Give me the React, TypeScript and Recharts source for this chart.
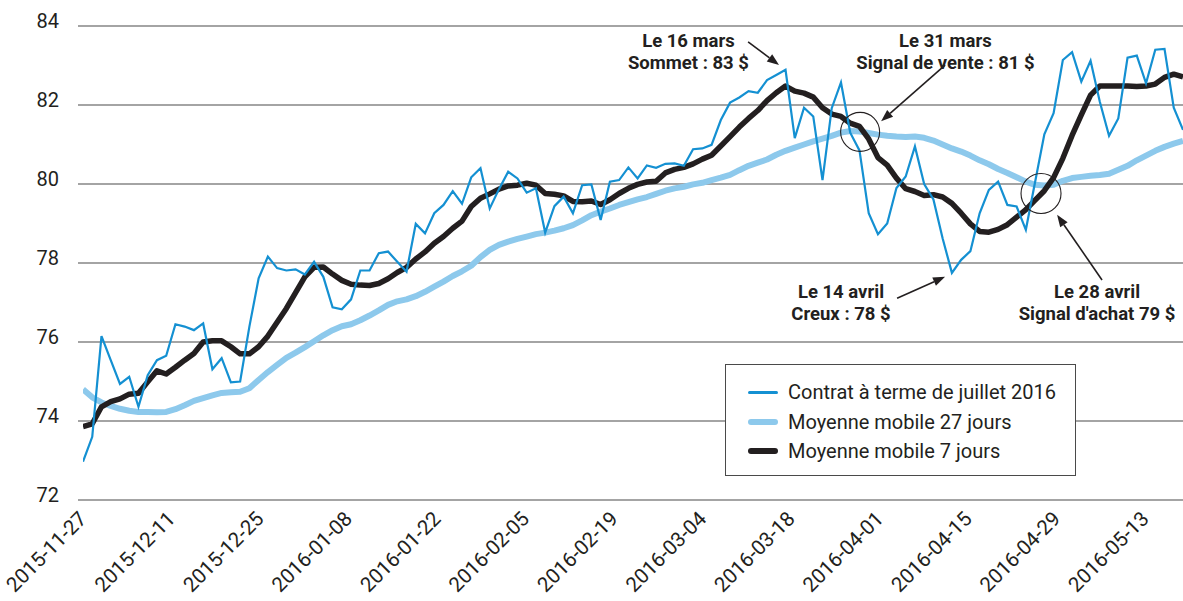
import {
  CartesianGrid,
  Line,
  LineChart,
  ReferenceDot,
  ReferenceLine,
  XAxis,
  YAxis,
} from "recharts";

// Trading days shown (weekdays, exchange holidays removed).
const FIRST_DAY = "2015-11-27";
const LAST_DAY = "2016-05-19";
const HOLIDAYS = ["2015-12-25", "2016-01-01", "2016-01-18", "2016-02-15", "2016-03-25"];

// Contrat à terme de juillet 2016 (closing price, $)
const PRICE = [
  72.97, 73.6, 76.15, 75.54, 74.94, 75.12, 74.36, 75.16, 75.54, 75.65,
  76.45, 76.39, 76.3, 76.47, 75.31, 75.59, 74.98, 75.0, 76.39, 77.61,
  78.16, 77.87, 77.81, 77.84, 77.71, 78.03, 77.65, 76.88, 76.83, 77.08,
  77.81, 77.81, 78.25, 78.29, 78.03, 77.78, 78.99, 78.75, 79.26, 79.47,
  79.82, 79.5, 80.17, 80.4, 79.38, 79.87, 80.31, 80.14, 79.78, 79.89,
  78.77, 79.44, 79.68, 79.26, 79.97, 79.99, 79.09, 80.06, 80.1, 80.42,
  80.14, 80.47, 80.41, 80.51, 80.52, 80.46, 80.88, 80.9, 80.99, 81.62,
  82.06, 82.19, 82.35, 82.31, 82.63, 82.76, 82.89, 81.16, 81.93, 81.71,
  80.1, 81.92, 82.57, 81.3, 80.85, 79.26, 78.73, 79.0, 79.9, 80.19,
  80.95, 80.0, 79.61, 78.62, 77.75, 78.08, 78.3, 79.26, 79.85, 80.06,
  79.47, 79.43, 78.84, 80.05, 81.26, 81.79, 83.14, 83.34, 82.59, 83.12,
  82.08, 81.22, 81.66, 83.2, 83.25, 82.55, 83.4, 83.42, 81.93, 81.37,
];

// Moyenne mobile 27 jours
const MA27 = [
  74.8, 74.6, 74.47, 74.38, 74.31, 74.26, 74.23, 74.23, 74.22, 74.23,
  74.3, 74.4, 74.51, 74.58, 74.65, 74.71, 74.73, 74.74, 74.83, 75.04,
  75.24, 75.42, 75.6, 75.73, 75.87, 76.02, 76.17, 76.3, 76.4, 76.45,
  76.55, 76.67, 76.8, 76.94, 77.03, 77.08, 77.16, 77.27, 77.4, 77.53,
  77.67, 77.79, 77.93, 78.15, 78.33, 78.46, 78.54, 78.61, 78.67, 78.73,
  78.77, 78.82, 78.88, 78.96, 79.08, 79.21, 79.3, 79.38, 79.47, 79.54,
  79.61, 79.67, 79.75, 79.83, 79.89, 79.93, 79.99, 80.03, 80.1, 80.16,
  80.23, 80.35, 80.46, 80.54, 80.62, 80.74, 80.84, 80.92, 81.0, 81.08,
  81.15, 81.22, 81.3, 81.34, 81.33, 81.29, 81.25, 81.22, 81.2, 81.19,
  81.2, 81.17, 81.1, 81.0, 80.9, 80.82, 80.72, 80.6, 80.5, 80.38,
  80.28, 80.17, 80.06, 79.98, 79.96, 79.98, 80.08, 80.15, 80.18, 80.21,
  80.23, 80.26, 80.36, 80.46, 80.6, 80.72, 80.84, 80.94, 81.02, 81.09,
];

// Moyenne mobile 7 jours
const MA7 = [
  73.86, 73.93, 74.36, 74.49, 74.56, 74.68, 74.7, 74.99, 75.27, 75.19,
  75.36, 75.54, 75.71, 76.0, 76.03, 76.03, 75.88, 75.7, 75.7, 75.88,
  76.15, 76.5, 76.85, 77.25, 77.65, 77.89, 77.9, 77.72, 77.56, 77.46,
  77.44, 77.43, 77.48, 77.6, 77.76, 77.89, 78.1, 78.28, 78.5, 78.67,
  78.88, 79.06, 79.43, 79.64, 79.75, 79.87, 79.95, 79.97, 80.02, 79.97,
  79.76, 79.74, 79.7, 79.56, 79.55, 79.57, 79.48, 79.6, 79.76, 79.89,
  79.99, 80.05, 80.07, 80.28, 80.37, 80.42, 80.51, 80.63, 80.73, 80.96,
  81.2, 81.44, 81.66, 81.86, 82.11, 82.31, 82.48, 82.35, 82.3, 82.2,
  81.93, 81.77, 81.71, 81.54, 81.46, 81.14, 80.67, 80.48, 80.15, 79.88,
  79.81, 79.71, 79.73, 79.67, 79.51, 79.26, 78.99, 78.8, 78.78, 78.85,
  78.97, 79.16, 79.35, 79.59, 79.83, 80.16, 80.65, 81.23, 81.75, 82.25,
  82.48, 82.48, 82.48, 82.48, 82.47, 82.48, 82.53, 82.7, 82.78, 82.71,
];

const TICK_LABELS = [
  "2015-11-27", "2015-12-11", "2015-12-25", "2016-01-08", "2016-01-22",
  "2016-02-05", "2016-02-19", "2016-03-04", "2016-03-18", "2016-04-01",
  "2016-04-15", "2016-04-29", "2016-05-13",
];
const Y_TICKS = [72, 74, 76, 78, 80, 82, 84];

// Annotations, in data units (x = trading-day index, y = $)
const NOTES = [
  { x: 65.5, y: 83.48, lines: ["Le 16 mars", "Sommet : 83 $"] },
  { x: 93.3, y: 83.48, lines: ["Le 31 mars", "Signal de vente : 81 $"] },
  { x: 82.0, y: 77.11, lines: ["Le 14 avril", "Creux : 78 $"] },
  { x: 109.7, y: 77.11, lines: ["Le 28 avril", "Signal d'achat 79 $"] },
];
const ARROWS = [
  { x1: 71.95, y1: 83.6, x2: 75.3, y2: 83.01 },
  { x1: 93.26, y1: 83.01, x2: 86.34, y2: 81.59 },
  { x1: 88.07, y1: 77.11, x2: 93.26, y2: 77.65 },
  { x1: 110.24, y1: 77.57, x2: 105.38, y2: 79.22 },
];
const CIRCLES = [
  { x: 84.07, y: 81.32, r: 19.5 },
  { x: 103.64, y: 79.76, r: 20 },
];

const BLUE = "#1490d2";
const LIGHT = "#8dc9ec";
const DARK = "#231f20";
const FONT = "Roboto, 'Noto Sans', sans-serif";

const DAY_MS = 86400000;
const toUtc = (s: string) => Date.parse(s + "T00:00:00Z");
const dayOffset = (s: string) => Math.round((toUtc(s) - toUtc(FIRST_DAY)) / DAY_MS);

function tradingDays(first: string, last: string, holidays: string[]): string[] {
  const out: string[] = [];
  for (let t = toUtc(first); t <= toUtc(last); t += DAY_MS) {
    const d = new Date(t);
    const wd = d.getUTCDay();
    const iso = d.toISOString().slice(0, 10);
    if (wd !== 0 && wd !== 6 && !holidays.includes(iso)) out.push(iso);
  }
  return out;
}

const DATES = tradingDays(FIRST_DAY, LAST_DAY, HOLIDAYS);

const data = PRICE.map((p, i) => ({
  i,
  date: DATES[i],
  day: dayOffset(DATES[i] ?? LAST_DAY),
  price: p,
  ma27: MA27[i],
  ma7: MA7[i],
}));

const LEGEND = [
  { label: "Contrat à terme de juillet 2016", color: BLUE, h: 3 },
  { label: "Moyenne mobile 27 jours", color: LIGHT, h: 6 },
  { label: "Moyenne mobile 7 jours", color: DARK, h: 6 },
];

function DateTick(props: any) {
  const { x, y, payload } = props;
  const label = new Date(toUtc(FIRST_DAY) + payload.value * DAY_MS)
    .toISOString()
    .slice(0, 10);
  const ax = x + 5;
  const ay = y + 20;
  return (
    <text
      x={ax}
      y={ay}
      transform={`rotate(-45 ${ax} ${ay})`}
      textAnchor="end"
      fontSize={20.5}
      fontFamily={FONT}
      fill={DARK}
    >
      {label}
    </text>
  );
}

function ValueTick(props: any) {
  const { x, y, payload } = props;
  return (
    <text x={x - 19} y={y + 1.5} textAnchor="end" fontSize={20} fontFamily={FONT} fill={DARK}>
      {payload.value}
    </text>
  );
}

function Arrow(props: any) {
  const { x1, y1, x2, y2 } = props;
  const a = Math.atan2(y2 - y1, x2 - x1);
  const len = 12;
  const half = 4.5;
  const bx = x2 - len * Math.cos(a);
  const by = y2 - len * Math.sin(a);
  const p1 = `${bx + half * Math.sin(a)},${by - half * Math.cos(a)}`;
  const p2 = `${bx - half * Math.sin(a)},${by + half * Math.cos(a)}`;
  return (
    <g>
      <line x1={x1} y1={y1} x2={bx} y2={by} stroke={DARK} strokeWidth={1.6} />
      <polygon points={`${x2},${y2} ${p1} ${p2}`} fill={DARK} />
    </g>
  );
}

function noteShape(lines: string[]) {
  return (props: any) => (
    <text
      x={props.cx}
      y={props.cy}
      textAnchor="middle"
      fontSize={18.5}
      fontWeight={700}
      fontFamily={FONT}
      fill={DARK}
    >
      <tspan x={props.cx}>{lines[0]}</tspan>
      <tspan x={props.cx} dy={22}>
        {lines[1]}
      </tspan>
    </text>
  );
}

export default function App() {
  const span = dayOffset(DATES[DATES.length - 1]);
  return (
    <div
      style={{
        position: "absolute",
        left: 0,
        top: 0,
        width: 1183,
        height: 601,
        background: "#fff",
        fontFamily: FONT,
      }}
    >
      <LineChart
        width={1183}
        height={601}
        data={data}
        margin={{ top: 26, right: 0, left: 0, bottom: 0 }}
      >
        <CartesianGrid vertical={false} stroke="#4a4a4a" strokeWidth={1.2} />
        <XAxis
          xAxisId="idx"
          type="number"
          dataKey="i"
          domain={[0, PRICE.length - 1]}
          allowDataOverflow
          padding={{ left: 5, right: 0 }}
          hide
        />
        <XAxis
          xAxisId="cal"
          type="number"
          dataKey="day"
          domain={[0, span]}
          allowDataOverflow
          ticks={TICK_LABELS.map(dayOffset)}
          interval={0}
          padding={{ left: 5, right: 0 }}
          axisLine={false}
          tickLine={false}
          tickSize={0}
          tickMargin={0}
          height={101}
          tick={<DateTick />}
        />
        <YAxis
          domain={[72, 84]}
          ticks={Y_TICKS}
          interval={0}
          width={78}
          axisLine={false}
          tickLine={false}
          tickSize={0}
          tickMargin={0}
          tick={<ValueTick />}
        />
        <Line
          xAxisId="idx"
          dataKey="ma27"
          stroke={LIGHT}
          strokeWidth={6}
          dot={false}
          strokeLinejoin="round"
          isAnimationActive={false}
        />
        <Line
          xAxisId="idx"
          dataKey="ma7"
          stroke={DARK}
          strokeWidth={5.5}
          dot={false}
          strokeLinejoin="round"
          isAnimationActive={false}
        />
        <Line
          xAxisId="idx"
          dataKey="price"
          stroke={BLUE}
          strokeWidth={2.2}
          dot={false}
          isAnimationActive={false}
        />
        {CIRCLES.map((c, k) => (
          <ReferenceDot
            key={`c${k}`}
            xAxisId="idx"
            x={c.x}
            y={c.y}
            r={c.r}
            fill="none"
            stroke={DARK}
            strokeWidth={1.1}
          />
        ))}
        {ARROWS.map((a, k) => (
          <ReferenceLine
            key={`a${k}`}
            xAxisId="idx"
            segment={[
              { x: a.x1, y: a.y1 },
              { x: a.x2, y: a.y2 },
            ]}
            shape={<Arrow />}
          />
        ))}
        {NOTES.map((n, k) => (
          <ReferenceDot
            key={`n${k}`}
            xAxisId="idx"
            x={n.x}
            y={n.y}
            r={1}
            shape={noteShape(n.lines)}
          />
        ))}
      </LineChart>
      <div
        style={{
          position: "absolute",
          left: 725,
          top: 364,
          width: 351,
          height: 112,
          boxSizing: "border-box",
          border: "1px solid #4a4a4a",
          background: "#fff",
        }}
      >
        {LEGEND.map((l, k) => (
          <div
            key={l.label}
            style={{
              position: "absolute",
              left: 0,
              top: 13 + k * 29.5,
              height: 28,
              display: "flex",
              alignItems: "center",
              whiteSpace: "nowrap",
            }}
          >
            <span
              style={{
                marginLeft: 22,
                width: 30,
                height: l.h,
                borderRadius: l.h / 2,
                background: l.color,
                display: "inline-block",
              }}
            />
            <span style={{ marginLeft: 10, fontSize: 20, color: DARK, lineHeight: "28px" }}>
              {l.label}
            </span>
          </div>
        ))}
      </div>
    </div>
  );
}
